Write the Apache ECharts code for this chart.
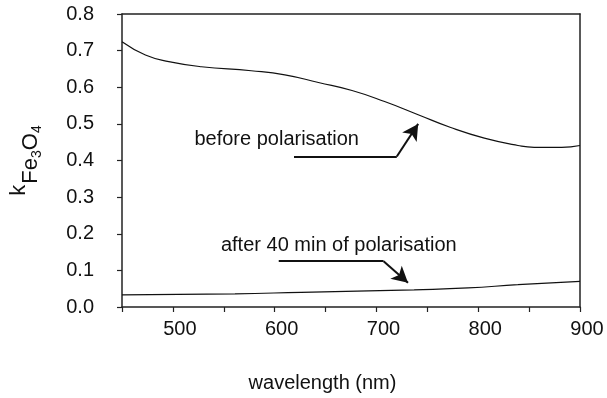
<!DOCTYPE html>
<html>
<head>
<meta charset="utf-8">
<script src="https://cdn.jsdelivr.net/npm/echarts@6/dist/echarts.min.js"></script>
<style>
  html, body { margin: 0; padding: 0; background: #fff; }
  #chart { width: 607px; height: 398px; }
</style>
</head>
<body>
<div id="chart"></div>
<script>
// curve before polarisation
const wlBefore = [450, 473, 496, 528, 577, 610, 643, 676, 708, 741, 773, 806, 839, 855, 882, 900]
const kBefore = [0.724, 0.688, 0.670, 0.656, 0.645, 0.634, 0.613, 0.591, 0.561, 0.525, 0.490, 0.461, 0.441, 0.436, 0.436, 0.441]

// curve after 40 min of polarisation
const wlAfter = [450, 561, 626, 692, 737, 790, 839, 900]
const kAfter = [0.033, 0.036, 0.040, 0.044, 0.047, 0.052, 0.061, 0.070]

// annotation arrows: start, bend, tip (wavelength, k)
const arrowBefore = [[619, 0.411], [720, 0.411], [741, 0.500]]
const arrowAfter = [[604, 0.125], [707, 0.125], [731, 0.066]]

// annotation texts
const noteBefore = { text: 'before polarisation', at: [602, 0.457] }
const noteAfter = { text: 'after 40 min of polarisation', at: [663, 0.168] }

const font = 'Liberation Sans, Arial, sans-serif'
const axisColor = '#222'

const pairs = (xs, ys) => xs.map((x, i) => [x, ys[i]])

const arrowLines = (pts) => [
  [{ coord: pts[0], symbol: 'none' }, { coord: pts[1], symbol: 'none' }],
  [{ coord: pts[1], symbol: 'none' }, { coord: pts[2], symbol: 'arrow', symbolSize: [13, 16] }]
]

const note = (n) => ({
  coord: n.at,
  symbol: 'circle',
  symbolSize: 1,
  itemStyle: { color: 'rgba(0,0,0,0)' },
  label: {
    show: true,
    position: 'inside',
    formatter: n.text,
    color: '#111',
    fontSize: 20,
    fontFamily: font
  }
})

const chart = echarts.init(document.getElementById('chart'))

chart.setOption({
  backgroundColor: '#fff',
  animation: false,
  grid: { left: 120, right: 27, top: 14, bottom: 90.5 },
  xAxis: [
    {
      type: 'value',
      min: 450,
      max: 900,
      interval: 50,
      name: 'wavelength (nm)',
      nameLocation: 'middle',
      nameGap: 66,
      nameTextStyle: { fontSize: 20, color: '#111', fontFamily: font, padding: [0, 57, 0, 0] },
      axisLine: { show: true, onZero: false, lineStyle: { color: axisColor, width: 1.5 } },
      axisTick: { show: true, inside: false, length: 5, lineStyle: { color: axisColor, width: 1.2 } },
      axisLabel: {
        fontSize: 20,
        color: '#111',
        fontFamily: font,
        margin: 12,
        padding: [0, 0, 0, 14],
        formatter: (v) => (v % 100 === 0 && v !== 450 ? String(v) : '')
      },
      splitLine: { show: false }
    },
    {
      type: 'value',
      position: 'top',
      min: 450,
      max: 900,
      axisLine: { show: true, onZero: false, lineStyle: { color: axisColor, width: 1.5 } },
      axisTick: { show: false },
      axisLabel: { show: false },
      splitLine: { show: false }
    }
  ],
  yAxis: [
    {
      type: 'value',
      min: 0,
      max: 0.8,
      interval: 0.1,
      name: '{k|k}{s|Fe}{ss|3}{s|O}{ss|4}',
      nameLocation: 'middle',
      nameRotate: 90,
      nameGap: 78,
      nameTextStyle: {
        color: '#111',
        fontFamily: font,
        fontSize: 22,
        rich: {
          k: { fontSize: 22, fontFamily: font, color: '#111', verticalAlign: 'top', padding: [0, 1, 0, 0] },
          s: { fontSize: 22, fontFamily: font, color: '#111', verticalAlign: 'top', padding: [12, 0, 0, 0] },
          ss: { fontSize: 14, fontFamily: font, color: '#111', verticalAlign: 'top', padding: [22, 0, 0, 0] }
        }
      },
      axisLine: { show: true, onZero: false, lineStyle: { color: axisColor, width: 1.5 } },
      axisTick: { show: true, inside: false, length: 5, lineStyle: { color: axisColor, width: 1.2 } },
      axisLabel: {
        fontSize: 20,
        color: '#111',
        fontFamily: font,
        margin: 28,
        formatter: (v) => v.toFixed(1)
      },
      splitLine: { show: false }
    },
    {
      type: 'value',
      position: 'right',
      min: 0,
      max: 0.8,
      axisLine: { show: true, onZero: false, lineStyle: { color: axisColor, width: 1.5 } },
      axisTick: { show: false },
      axisLabel: { show: false },
      splitLine: { show: false }
    }
  ],
  series: [
    {
      name: 'before polarisation',
      type: 'line',
      data: pairs(wlBefore, kBefore),
      smooth: true,
      showSymbol: false,
      lineStyle: { color: '#111', width: 1.2 },
      markLine: {
        silent: true,
        animation: false,
        label: { show: false },
        lineStyle: { color: '#111', width: 2, type: 'solid' },
        data: arrowLines(arrowBefore)
      },
      markPoint: {
        silent: true,
        data: [note(noteBefore)]
      }
    },
    {
      name: 'after 40 min of polarisation',
      type: 'line',
      data: pairs(wlAfter, kAfter),
      smooth: true,
      showSymbol: false,
      lineStyle: { color: '#111', width: 1.2 },
      markLine: {
        silent: true,
        animation: false,
        label: { show: false },
        lineStyle: { color: '#111', width: 2, type: 'solid' },
        data: arrowLines(arrowAfter)
      },
      markPoint: {
        silent: true,
        data: [note(noteAfter)]
      }
    }
  ]
})

window.addEventListener('resize', () => chart.resize())
</script>
</body>
</html>
